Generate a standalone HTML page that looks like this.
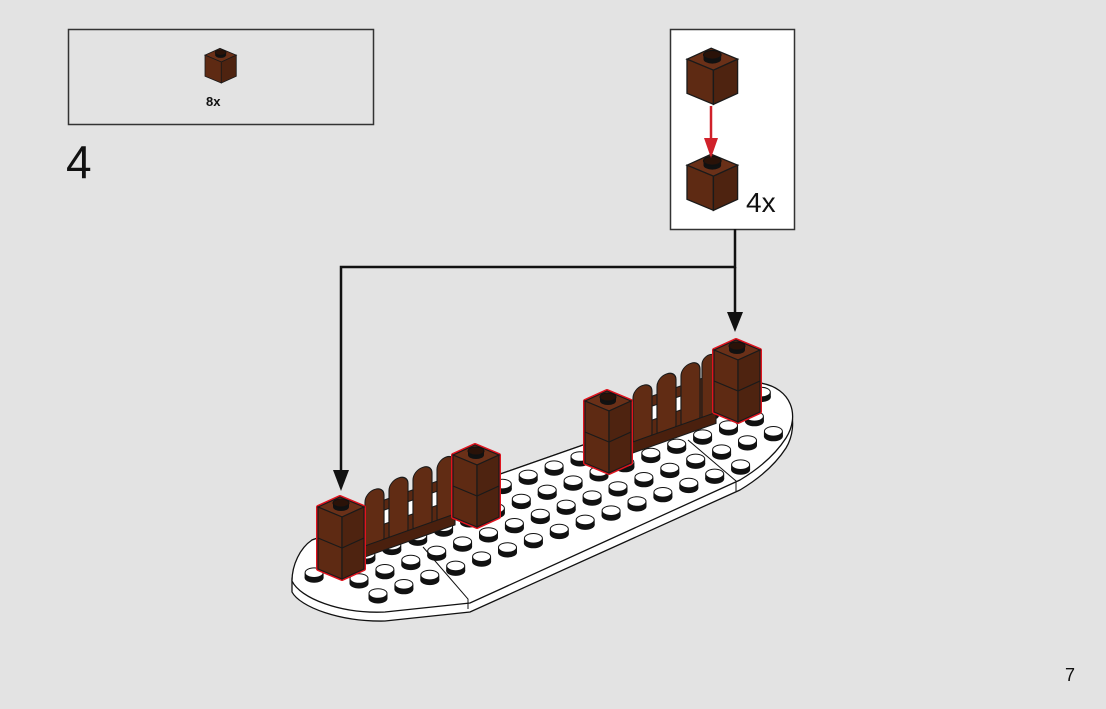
<!DOCTYPE html>
<html><head><meta charset="utf-8"><style>
html,body{margin:0;padding:0;background:#e3e3e3;}
svg{display:block;}
text{font-family:"Liberation Sans",sans-serif;fill:#111;}
</style></head><body>
<svg width="1106" height="709" viewBox="0 0 1106 709" xmlns="http://www.w3.org/2000/svg">
<defs>
<g id="s"><ellipse cx="0" cy="3.5" rx="9.5" ry="5" fill="#111"/><rect x="-9.5" y="-1" width="19" height="4.5" fill="#111"/><ellipse cx="0" cy="-1.5" rx="9" ry="4.8" fill="#fff" stroke="#111" stroke-width="1"/></g>
<g id="st"><ellipse cx="23" cy="12" rx="8" ry="4" fill="#111"/><rect x="15" y="8" width="16" height="4" fill="#111"/><ellipse cx="23" cy="8" rx="8" ry="4" fill="#2a1208" stroke="#111" stroke-width="1"/></g>
<g id="b2">
<polygon points="0,12 22,2 46,12 46,74 24,84 0,74" fill="none" stroke="#e0141e" stroke-width="4" stroke-linejoin="round"/>
<polygon points="0,12 22,2 46,12 24,22" fill="#6a3018" stroke="#1a1a1a" stroke-width="1.2"/>
<polygon points="0,12 24,22 24,84 0,74" fill="#5e2a13" stroke="#1a1a1a" stroke-width="1.2"/>
<polygon points="24,22 46,12 46,74 24,84" fill="#4e2310" stroke="#1a1a1a" stroke-width="1.2"/>
<polyline points="0,43 24,53 46,43" fill="none" stroke="#1a1a1a" stroke-width="1.2"/>
<use href="#st"/>
</g>
<g id="b1">
<polygon points="0,12 22,2 46,12 24,22" fill="#6a3018" stroke="#1a1a1a" stroke-width="1.2"/>
<polygon points="0,12 24,22 24,53 0,43" fill="#5e2a13" stroke="#1a1a1a" stroke-width="1.2"/>
<polygon points="24,22 46,12 46,43 24,53" fill="#4e2310" stroke="#1a1a1a" stroke-width="1.2"/>
<use href="#st"/>
</g>
</defs>

<rect x="68.5" y="29.5" width="305" height="95" fill="none" stroke="#333" stroke-width="1.5"/>
<use href="#b1" transform="translate(205,47) scale(0.68)"/>
<text x="206" y="106" font-size="13" font-weight="bold">8x</text>
<text x="66" y="178" font-size="46">4</text>

<rect x="670.5" y="29.5" width="124" height="200" fill="#fff" stroke="#333" stroke-width="1.5"/>
<use href="#b1" transform="translate(687,46) scale(1.1)"/>
<use href="#b1" transform="translate(687,152) scale(1.1)"/>
<line x1="711" y1="106" x2="711" y2="142" stroke="#d0212a" stroke-width="2.5"/>
<polygon points="704,138 718,138 711,158" fill="#d0212a"/>
<text x="746" y="212" font-size="28">4x</text>

<polyline points="735,229 735,267 341,267 341,476" fill="none" stroke="#111" stroke-width="2.5"/>
<polygon points="333,470 349,470 341,491" fill="#111"/>
<line x1="735" y1="267" x2="735" y2="316" stroke="#111" stroke-width="2.5"/>
<polygon points="727,312 743,312 735,332" fill="#111"/>

<path d="M385,621 C340,622 300,607 292,592 L292,578 L312,540 L760,383 C792,388 800,425 786,448 C775,465 760,478 740,490 L470,612 Z" fill="#fff" stroke="#111" stroke-width="1.3"/>
<path d="M385,612 C340,614 300,598 292,581 C292,565 300,548 312,540 L760,383 C792,388 800,416 786,438 C775,455 760,468 740,480 L470,603 Z" fill="#fff" stroke="#111" stroke-width="1.3"/>
<polyline points="423,547 468,599 468,609" fill="none" stroke="#111" stroke-width="1"/>
<polyline points="688,440 736,481 736,492" fill="none" stroke="#111" stroke-width="1"/>

<g>
<use href="#s" x="476.4" y="494.8"/><use href="#s" x="502.3" y="485.6"/><use href="#s" x="528.2" y="476.4"/><use href="#s" x="554.1" y="467.2"/><use href="#s" x="580" y="458"/><use href="#s" x="683.6" y="421.2"/><use href="#s" x="709.5" y="412"/><use href="#s" x="761.3" y="393.6"/>
<use href="#s" x="314.1" y="574.2"/><use href="#s" x="365.9" y="555.8"/><use href="#s" x="391.8" y="546.6"/><use href="#s" x="417.7" y="537.4"/><use href="#s" x="443.6" y="528.2"/><use href="#s" x="469.5" y="519"/><use href="#s" x="495.4" y="509.8"/><use href="#s" x="521.3" y="500.6"/><use href="#s" x="547.2" y="491.4"/><use href="#s" x="573.1" y="482.2"/><use href="#s" x="599" y="473"/><use href="#s" x="624.9" y="463.8"/><use href="#s" x="650.8" y="454.6"/><use href="#s" x="676.7" y="445.4"/><use href="#s" x="702.6" y="436.2"/><use href="#s" x="728.5" y="427"/><use href="#s" x="754.4" y="417.8"/>
<use href="#s" x="359" y="580"/><use href="#s" x="384.9" y="570.8"/><use href="#s" x="410.8" y="561.6"/><use href="#s" x="436.7" y="552.4"/><use href="#s" x="462.6" y="543.2"/><use href="#s" x="488.5" y="534"/><use href="#s" x="514.4" y="524.8"/><use href="#s" x="540.3" y="515.6"/><use href="#s" x="566.2" y="506.4"/><use href="#s" x="592.1" y="497.2"/><use href="#s" x="618" y="488"/><use href="#s" x="643.9" y="478.8"/><use href="#s" x="669.8" y="469.6"/><use href="#s" x="695.7" y="460.4"/><use href="#s" x="721.6" y="451.2"/><use href="#s" x="747.5" y="442"/><use href="#s" x="773.4" y="432.8"/>
<use href="#s" x="378" y="595"/><use href="#s" x="403.9" y="585.8"/><use href="#s" x="429.8" y="576.6"/><use href="#s" x="455.7" y="567.4"/><use href="#s" x="481.6" y="558.2"/><use href="#s" x="507.5" y="549"/><use href="#s" x="533.4" y="539.8"/><use href="#s" x="559.3" y="530.6"/><use href="#s" x="585.2" y="521.4"/><use href="#s" x="611.1" y="512.2"/><use href="#s" x="637" y="503"/><use href="#s" x="662.9" y="493.8"/><use href="#s" x="688.8" y="484.6"/><use href="#s" x="714.7" y="475.4"/><use href="#s" x="740.6" y="466.2"/>
</g>

<g transform="translate(362,558) skewY(-19.6)" stroke="#1a1a1a" stroke-width="1.1">
<rect x="0" y="-50" width="93" height="44" fill="#5a2812"/>
<rect x="22" y="-40" width="5" height="14" fill="#fff"/><rect x="46" y="-40" width="5" height="14" fill="#fff"/><rect x="70" y="-40" width="5" height="14" fill="#fff"/>
<rect x="3" y="-64" width="19" height="60" rx="9" fill="#612c14"/>
<rect x="27" y="-67" width="19" height="63" rx="9" fill="#612c14"/>
<rect x="51" y="-69" width="19" height="65" rx="9" fill="#612c14"/>
<rect x="75" y="-71" width="18" height="67" rx="9" fill="#612c14"/>
<rect x="0" y="-11" width="93" height="11" fill="#4a200e"/>
</g>
<g transform="translate(630,454) skewY(-19.6)" stroke="#1a1a1a" stroke-width="1.1">
<rect x="0" y="-50" width="86" height="44" fill="#5a2812"/>
<rect x="22" y="-40" width="5" height="14" fill="#fff"/><rect x="46" y="-40" width="5" height="14" fill="#fff"/>
<rect x="3" y="-64" width="19" height="60" rx="9" fill="#612c14"/>
<rect x="27" y="-67" width="19" height="63" rx="9" fill="#612c14"/>
<rect x="51" y="-69" width="19" height="65" rx="9" fill="#612c14"/>
<rect x="72" y="-71" width="14" height="67" rx="7" fill="#612c14"/>
<rect x="0" y="-11" width="86" height="11" fill="#4a200e"/>
</g>

<use href="#b2" transform="translate(318,495)"/>
<use href="#b2" transform="translate(453,443)"/>
<use href="#b2" transform="translate(585,389)"/>
<use href="#b2" transform="translate(714,338)"/>

<text x="1065" y="681" font-size="18">7</text>
</svg>
</body></html>
